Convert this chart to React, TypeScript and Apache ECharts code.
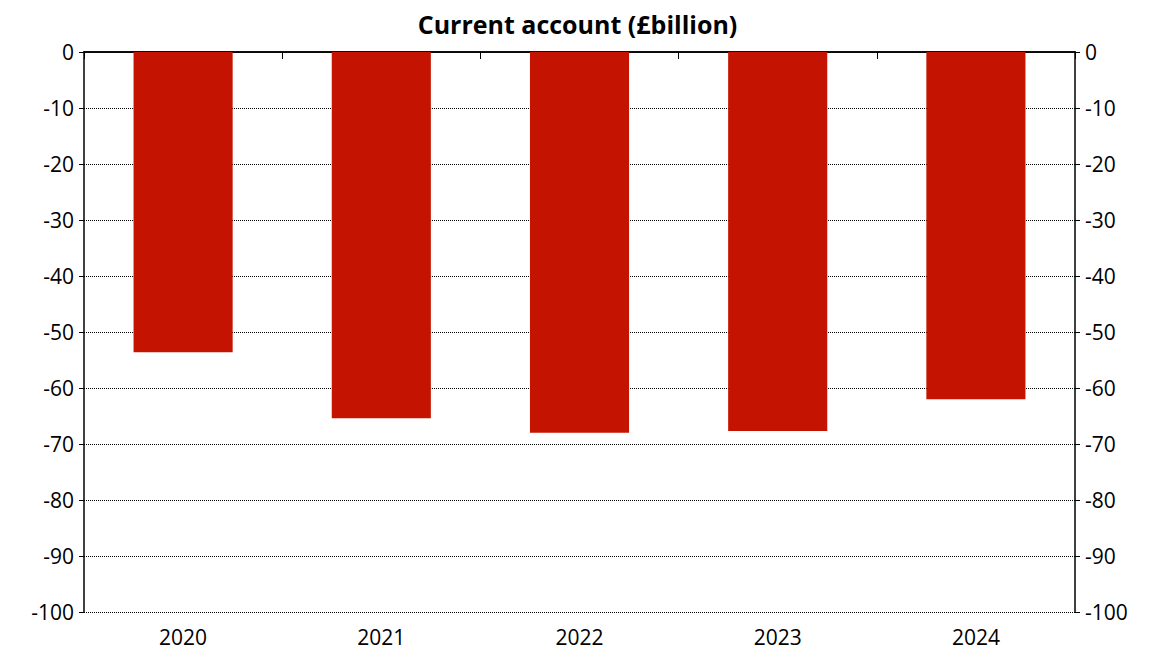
import { useEffect, useRef } from 'react';
import * as echarts from 'echarts';

const years = ['2020', '2021', '2022', '2023', '2024'];
const currentAccount = [-53.6, -65.4, -68.0, -67.7, -62.0];

const font = '"Open Sans", "Noto Sans", sans-serif';

export default function App() {
  const chartRef = useRef<HTMLDivElement>(null);

  useEffect(() => {
    if (!chartRef.current) return;
    const chart = echarts.init(chartRef.current, undefined, { renderer: 'svg' });

    const yAxisBase = {
      type: 'value' as const,
      min: -100,
      max: 0,
      interval: 10,
      axisLine: { show: true, lineStyle: { color: '#000', width: 1.5 } },
      axisTick: { show: true, length: 5, lineStyle: { color: '#000' } },
      axisLabel: { color: '#000', fontSize: 21, fontFamily: font, margin: 10 },
    };

    chart.setOption({
      animation: false,
      backgroundColor: '#fff',
      title: {
        text: 'Current account (£billion)',
        left: 'center',
        top: -2,
        textStyle: { fontSize: 25, fontWeight: 'bold', color: '#000', fontFamily: font },
      },
      grid: { left: 76, right: 72, top: 44, bottom: 40 },
      xAxis: [
        {
          type: 'category',
          data: years,
          position: 'bottom',
          axisLine: { show: true, lineStyle: { color: '#000', width: 1.5 } },
          axisTick: { show: false },
          axisLabel: { color: '#000', fontSize: 21, fontFamily: font, margin: 14 },
        },
        {
          type: 'category',
          data: years,
          position: 'top',
          axisLine: { show: true, lineStyle: { color: '#000', width: 1.5 } },
          axisTick: { show: true, inside: true, length: 7, lineStyle: { color: '#000' } },
          axisLabel: { show: false },
        },
      ],
      yAxis: [
        {
          ...yAxisBase,
          position: 'left',
          splitLine: { show: true, lineStyle: { color: '#000', type: [1, 1], width: 1 } },
        },
        { ...yAxisBase, position: 'right', splitLine: { show: false } },
      ],
      series: [
        {
          type: 'bar',
          data: currentAccount,
          barWidth: '50%',
          itemStyle: { color: '#c41300' },
          z: 3,
        },
      ],
    });

    return () => chart.dispose();
  }, []);

  return <div ref={chartRef} style={{ width: 1139, height: 644 }} />;
}
